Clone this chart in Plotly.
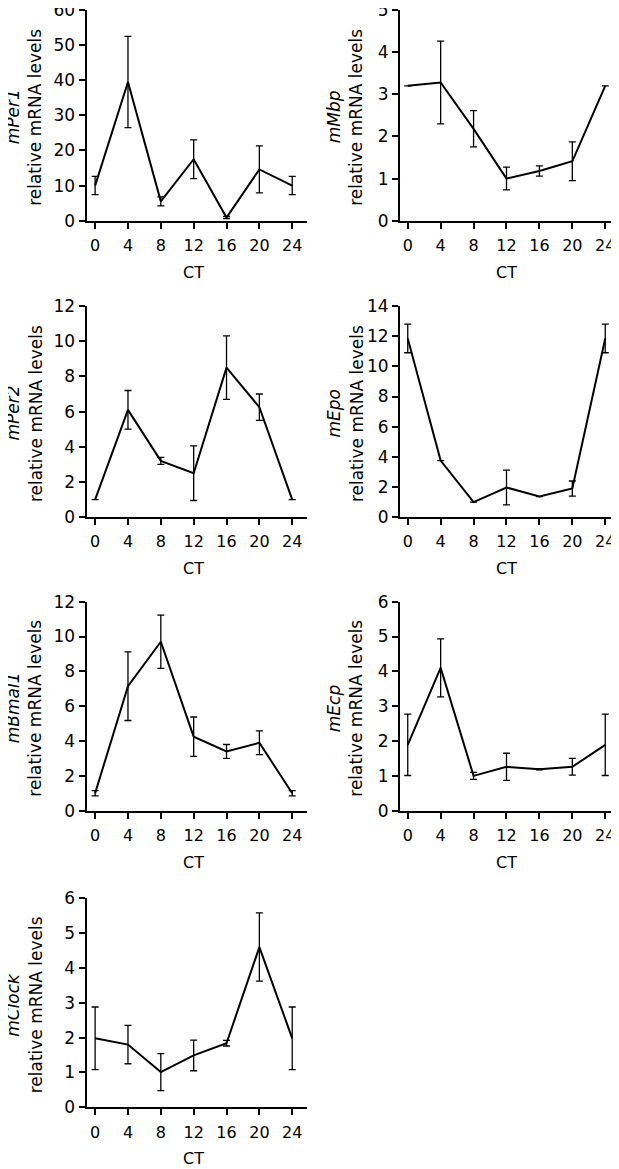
import plotly.graph_objects as go

# the page body adds an 8px margin, so the figure is drawn 8px smaller
# and every reference pixel position is shifted by that amount
PAGE_W, PAGE_H = 619, 1169
OFF = 8
W, H = PAGE_W - OFF, PAGE_H - OFF

ct = [0, 4, 8, 12, 16, 20, 24]
ct_ticks = [0, 4, 8, 12, 16, 20, 24]

genes = ["mPer1", "mMbp", "mPer2", "mEpo", "mBmal1", "mEcp", "mClock"]

per1 = [10, 39.5, 5.5, 17.5, 0.9, 14.6, 10]
per1_err = [2.6, 13, 1.3, 5.5, 0.3, 6.7, 2.6]

mbp = [3.2, 3.28, 2.18, 1.0, 1.18, 1.41, 3.2]
mbp_err = [0, 0.98, 0.43, 0.27, 0.12, 0.46, 0]

per2 = [1.0, 6.1, 3.2, 2.5, 8.5, 6.25, 1.0]
per2_err = [0, 1.1, 0.2, 1.55, 1.8, 0.75, 0]

epo = [11.85, 3.75, 1.0, 1.97, 1.37, 1.9, 11.85]
epo_err = [0.95, 0, 0, 1.15, 0, 0.5, 0.95]

bmal1 = [1.0, 7.15, 9.7, 4.25, 3.4, 3.9, 1.0]
bmal1_err = [0.15, 1.97, 1.53, 1.13, 0.4, 0.68, 0.15]

ecp = [1.89, 4.1, 1.0, 1.26, 1.19, 1.26, 1.89]
ecp_err = [0.88, 0.83, 0.1, 0.39, 0.02, 0.24, 0.88]

clock = [1.98, 1.8, 1.01, 1.49, 1.84, 4.6, 1.98]
clock_err = [0.9, 0.55, 0.53, 0.44, 0.08, 0.98, 0.9]

series = [per1, mbp, per2, epo, bmal1, ecp, clock]
errors = [per1_err, mbp_err, per2_err, epo_err, bmal1_err, ecp_err, clock_err]
y_max = [60, 5, 12, 14, 12, 6, 6]
y_step = [10, 1, 2, 2, 2, 1, 1]

# pixel layout of the panels in the page: (left, right, x range start, x range end)
cols = [(86.5, 307, -1.05, 25.8), (400, 611, -0.94, 24.7)]
rows = [(10, 220.7), (306, 517.2), (601.7, 810.7), (898.3, 1107.3)]
gene_x = [13, 334]
title_x = [35.5, 356.5]


def px(v):
    return (v - OFF) / W


def py(v):
    return 1 - (v - OFF) / H


font = "DejaVu Sans, Liberation Sans, sans-serif"

fig = go.Figure()
annotations = []
for i, (gene, y, err) in enumerate(zip(genes, series, errors)):
    r, c = divmod(i, 2)
    left, right, x0, x1 = cols[c]
    top, bottom = rows[r]
    mid = py((top + bottom) / 2 + 2)
    n = "" if i == 0 else str(i + 1)
    fig.add_trace(go.Scatter(
        x=ct, y=y, mode="lines",
        line=dict(color="black", width=2),
        error_y=dict(type="data", array=err, visible=True, color="black",
                     thickness=1.3, width=3.5),
        xaxis="x" + n, yaxis="y" + n, showlegend=False,
    ))
    common = dict(showline=True, linecolor="black", linewidth=2,
                  ticks="outside", ticklen=6, tickwidth=2, tickcolor="black",
                  showgrid=False, zeroline=False, automargin=False)
    fig.layout["xaxis" + n] = dict(
        domain=[px(left), px(right)], range=[x0, x1], anchor="y" + n,
        tickvals=ct_ticks, ticklabeloverflow="allow", ticklabelstandoff=3,
        tickfont=dict(family=font, size=16, color="black"), **common)
    fig.layout["yaxis" + n] = dict(
        domain=[py(bottom), py(top)], range=[0, y_max[i]], anchor="x" + n,
        dtick=y_step[i], tick0=0, ticklabeloverflow="allow",
        tickfont=dict(family=font, size=17, color="black"), **common)
    annotations.append(dict(
        text="<i>%s</i>" % gene, x=px(gene_x[c]), y=mid,
        xref="paper", yref="paper", xanchor="center", yanchor="middle",
        textangle=-90, showarrow=False,
        font=dict(family=font, size=17, color="black")))
    annotations.append(dict(
        text="relative mRNA levels", x=px(title_x[c]), y=mid,
        xref="paper", yref="paper", xanchor="center", yanchor="middle",
        textangle=-90, showarrow=False,
        font=dict(family=font, size=17, color="black")))
    annotations.append(dict(
        text="CT", x=12, xref="x" + n, y=py(bottom + 51.5), yref="paper",
        xanchor="center", yanchor="middle", showarrow=False,
        font=dict(family=font, size=16, color="black")))

fig.update_layout(width=W, height=H, margin=dict(l=0, r=0, t=0, b=0, pad=0),
                  plot_bgcolor="white", paper_bgcolor="white",
                  annotations=annotations)

fig.write_html("out.html")
